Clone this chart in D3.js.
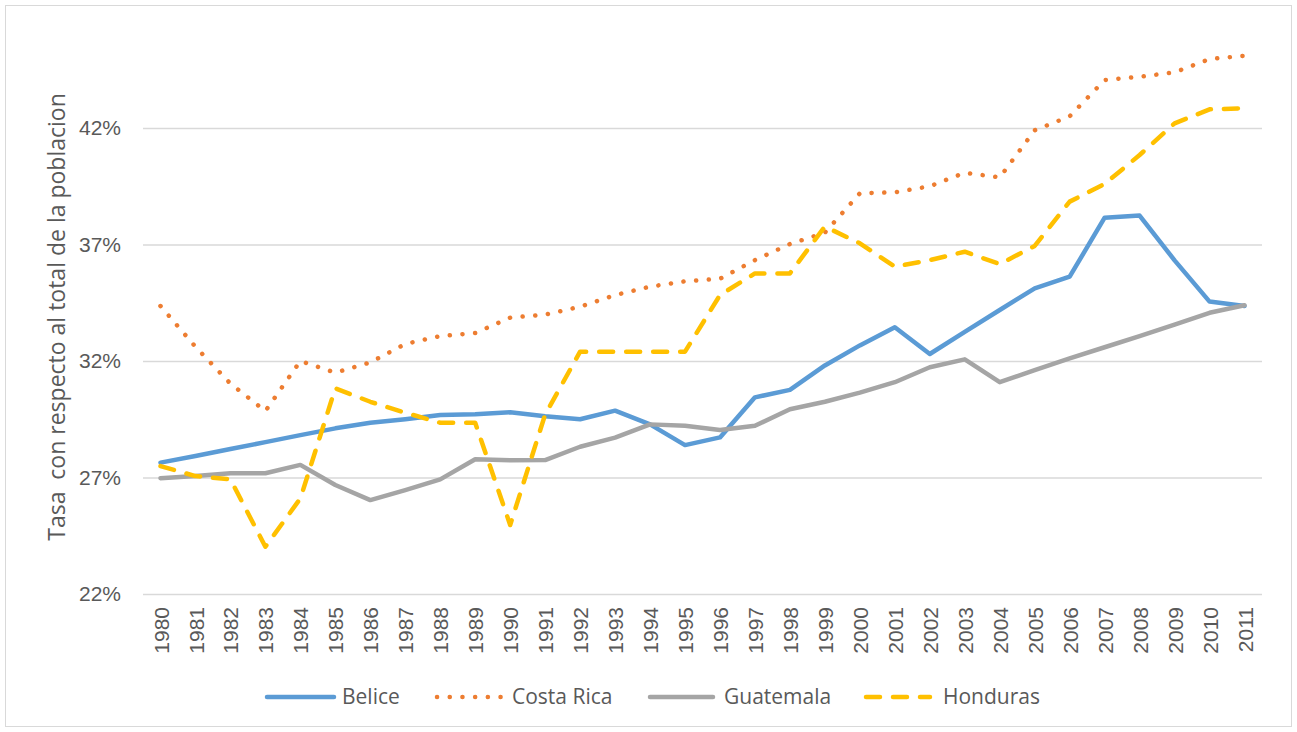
<!DOCTYPE html>
<html lang="es">
<head>
<meta charset="UTF-8">
<title>Tasa con respecto al total de la poblacion</title>
<style>
  body { margin: 0; background: #fff; }
  svg { display: block; font-family: "Open Sans", "Liberation Sans", sans-serif; }
  .tick text { fill: #595959; }
</style>
<script src="https://d3js.org/d3.v7.min.js"></script>
</head>
<body>
<svg width="1297" height="732"></svg>
<script>
// años del eje X
const years = d3.range(1980, 2012).map(String);

// valores en %
const belice = [27.64, 27.92, 28.22, 28.52, 28.82, 29.11, 29.35, 29.5, 29.68, 29.71, 29.8, 29.63,
  29.5, 29.87, 29.28, 28.39, 28.72, 30.44, 30.76, 31.81, 32.67, 33.45, 32.3, 33.25,
  34.19, 35.12, 35.62, 38.15, 38.24, 36.32, 34.55, 34.36];
const costaRica = [34.36, 32.61, 31.03, 29.85, 32.0, 31.5, 31.94, 32.73, 33.07, 33.2, 33.86, 33.99,
  34.33, 34.83, 35.19, 35.42, 35.53, 36.33, 37.02, 37.51, 39.2, 39.24, 39.5, 40.08,
  39.88, 41.9, 42.5, 44.06, 44.2, 44.39, 44.96, 45.1];
const guatemala = [26.97, 27.06, 27.18, 27.18, 27.54, 26.68, 26.03, 26.46, 26.92, 27.78, 27.74, 27.75,
  28.32, 28.71, 29.28, 29.22, 29.04, 29.22, 29.93, 30.25, 30.64, 31.09, 31.73, 32.07,
  31.09, 31.61, 32.11, 32.59, 33.07, 33.56, 34.07, 34.39];
const honduras = [27.49, 27.06, 26.92, 24.03, 26.1, 30.83, 30.25, 29.78, 29.35, 29.35, 24.96, 29.7,
  32.4, 32.4, 32.4, 32.4, 34.83, 35.76, 35.76, 37.77, 37.05, 36.05, 36.33, 36.69,
  36.16, 36.94, 38.84, 39.6, 40.84, 42.2, 42.8, 42.85];

const yTicks = [22, 27, 32, 37, 42];
const seriesNames = ["Belice", "Costa Rica", "Guatemala", "Honduras"];

const series = [
  { name: seriesNames[0], values: belice, color: "#5B9BD5", dash: null },
  { name: seriesNames[1], values: costaRica, color: "#ED7D31", dash: "0.1 12.6" },
  { name: seriesNames[2], values: guatemala, color: "#A5A5A5", dash: null },
  { name: seriesNames[3], values: honduras, color: "#FFC000", dash: "14 13" }
];

const svg = d3.select("svg");

// marco exterior
svg.append("rect")
  .attr("x", 5.5).attr("y", 5.5)
  .attr("width", 1286).attr("height", 721)
  .attr("fill", "#fff").attr("stroke", "#d9d9d9");

const plotLeft = 143, plotRight = 1262, plotTop = 11.5, plotBottom = 594;

const x = d3.scalePoint().domain(years).range([plotLeft, plotRight]).padding(0.5);
const y = d3.scaleLinear().domain([22, 47]).range([plotBottom, plotTop]);

// líneas de cuadrícula + etiquetas Y
const yAxis = svg.append("g")
  .attr("transform", `translate(${plotLeft},0)`)
  .call(d3.axisLeft(y).tickValues(yTicks).tickSize(-(plotRight - plotLeft)).tickPadding(22)
    .tickFormat(d => d + "%"));
yAxis.select(".domain").remove();
yAxis.selectAll(".tick line").attr("stroke", "#d9d9d9").attr("stroke-width", 1.3);
yAxis.selectAll(".tick text").attr("font-size", 21);

// etiquetas X rotadas
const xAxis = svg.append("g")
  .attr("transform", `translate(0,${plotBottom})`)
  .call(d3.axisBottom(x).tickSize(0));
xAxis.select(".domain").remove();
xAxis.selectAll(".tick text")
  .attr("font-size", 21)
  .attr("transform", "rotate(-90)")
  .attr("text-anchor", "end")
  .attr("dy", "0.36em")
  .attr("x", -13)
  .attr("y", 0);

// título eje Y
svg.append("text")
  .attr("transform", "translate(65,317) rotate(-90)")
  .attr("text-anchor", "middle")
  .attr("font-size", 23)
  .attr("fill", "#595959")
  .style("white-space", "pre")
  .text("Tasa  con respecto al total de la poblacion");

// series
const line = d3.line()
  .x((d, i) => x(years[i]))
  .y(d => y(d));

svg.selectAll("path.serie")
  .data(series)
  .enter().append("path")
  .attr("class", "serie")
  .attr("d", d => line(d.values))
  .attr("fill", "none")
  .attr("stroke", d => d.color)
  .attr("stroke-width", 4.5)
  .attr("stroke-linejoin", "round")
  .attr("stroke-linecap", "round")
  .attr("stroke-dasharray", d => d.dash);

// leyenda
const legendLine = [[267, 334], [437, 501], [650, 713], [866, 930]];
const legendText = [342, 512, 724, 943];
const legend = svg.selectAll("g.legend")
  .data(series)
  .enter().append("g")
  .attr("class", "legend");

legend.append("line")
  .attr("x1", (d, i) => legendLine[i][0]).attr("x2", (d, i) => legendLine[i][1])
  .attr("y1", 697).attr("y2", 697)
  .attr("stroke", d => d.color)
  .attr("stroke-width", 4.5)
  .attr("stroke-linecap", "round")
  .attr("stroke-dasharray", d => d.dash);

legend.append("text")
  .attr("x", (d, i) => legendText[i])
  .attr("y", 697)
  .attr("dy", "0.35em")
  .attr("font-size", 21)
  .attr("fill", "#595959")
  .text(d => d.name);
</script>
</body>
</html>
